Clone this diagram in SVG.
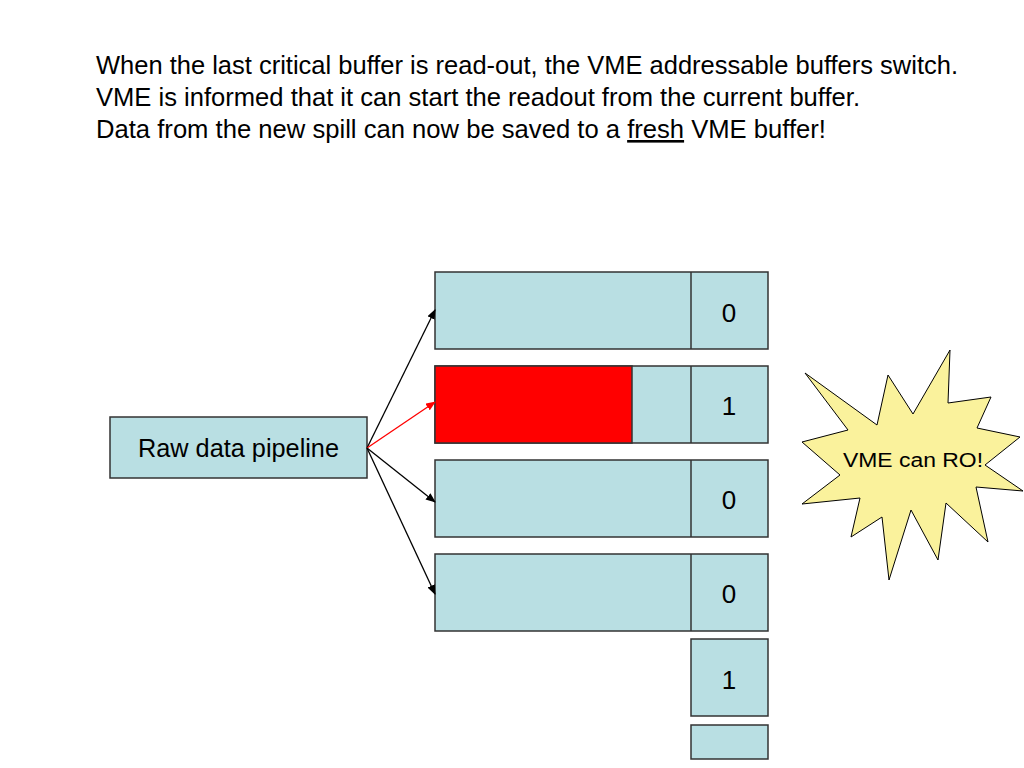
<svg xmlns="http://www.w3.org/2000/svg" width="1024" height="768" viewBox="0 0 1024 768">
<style>
.t{font-family:"Liberation Sans",Arial,sans-serif;fill:#000}
.head{font-size:26px}
.buf{fill:#B9DFE3;stroke:#333;stroke-width:1.5}
.num{font-size:26px;text-anchor:middle}
.div{stroke:#333;stroke-width:1.5}
.conn{stroke:#000;stroke-width:1.3;fill:none;marker-end:url(#ah)}
.connr{stroke:#f00;stroke-width:1.3;fill:none;marker-end:url(#ahr)}
</style>
<defs>
<marker id="ah" markerWidth="10" markerHeight="8" refX="9" refY="4" orient="auto" markerUnits="userSpaceOnUse"><path d="M0,0 L10,4 L0,8 Z" fill="#000"/></marker>
<marker id="ahr" markerWidth="10" markerHeight="8" refX="9" refY="4" orient="auto" markerUnits="userSpaceOnUse"><path d="M0,0 L10,4 L0,8 Z" fill="#f00"/></marker>
</defs>
<rect width="1024" height="768" fill="#fff"/>
<g id="title">
<text class="t head" x="96" y="74" textLength="862" lengthAdjust="spacingAndGlyphs">When the last critical buffer is read-out, the VME addressable buffers switch.</text>
<text class="t head" x="96" y="106" textLength="764" lengthAdjust="spacingAndGlyphs">VME is informed that it can start the readout from the current buffer.</text>
<text class="t head" x="96" y="138" textLength="730" lengthAdjust="spacingAndGlyphs">Data from the new spill can now be saved to a <tspan text-decoration="underline">fresh</tspan> VME buffer!</text>
</g>
<g id="pipeline">
<rect class="buf" x="110" y="417" width="257" height="61"/>
<text class="t" x="138" y="457" font-size="25" textLength="201" lengthAdjust="spacingAndGlyphs">Raw data pipeline</text>
</g>
<g id="buffer1">
<rect class="buf" x="435" y="272" width="333" height="77"/>
<line class="div" x1="691" y1="272" x2="691" y2="349"/>
<text class="t num" x="729" y="322">0</text>
</g>
<g id="buffer2">
<rect class="buf" x="435" y="366" width="333" height="77"/>
<rect x="435" y="366" width="197" height="77" fill="#f00" stroke="#333" stroke-width="1.5"/>
<line class="div" x1="691" y1="366" x2="691" y2="443"/>
<text class="t num" x="729" y="415">1</text>
</g>
<g id="buffer3">
<rect class="buf" x="435" y="460" width="333" height="77"/>
<line class="div" x1="691" y1="460" x2="691" y2="537"/>
<text class="t num" x="729" y="509">0</text>
</g>
<g id="buffer4">
<rect class="buf" x="435" y="554" width="333" height="77"/>
<line class="div" x1="691" y1="554" x2="691" y2="631"/>
<text class="t num" x="729" y="603">0</text>
</g>
<g id="flag5">
<rect class="buf" x="691" y="639" width="77" height="77"/>
<text class="t num" x="729" y="689">1</text>
</g>
<g id="flag6">
<rect class="buf" x="691" y="725" width="77" height="34"/>
</g>
<g id="burst">
<polygon points="805,373 877,425 888,375 913,414 950,350 948,403 991,397 977,428 1020,437 985,465 1023,491 976,487 988,542 946,503 938,560 911,510 889,580 882,517 851,537 860,498 802,504 840,475 802,442 848,430" fill="#FAF29C" stroke="#000" stroke-width="1"/>
<text class="t" x="843" y="467" font-size="20" textLength="140" lengthAdjust="spacingAndGlyphs">VME can RO!</text>
</g>
<g id="connectors">
<line class="conn" x1="367" y1="448" x2="435" y2="310"/>
<line class="connr" x1="367" y1="448" x2="435" y2="402"/>
<line class="conn" x1="367" y1="448" x2="435" y2="502"/>
<line class="conn" x1="367" y1="448" x2="435" y2="594"/>
</g>
</svg>
